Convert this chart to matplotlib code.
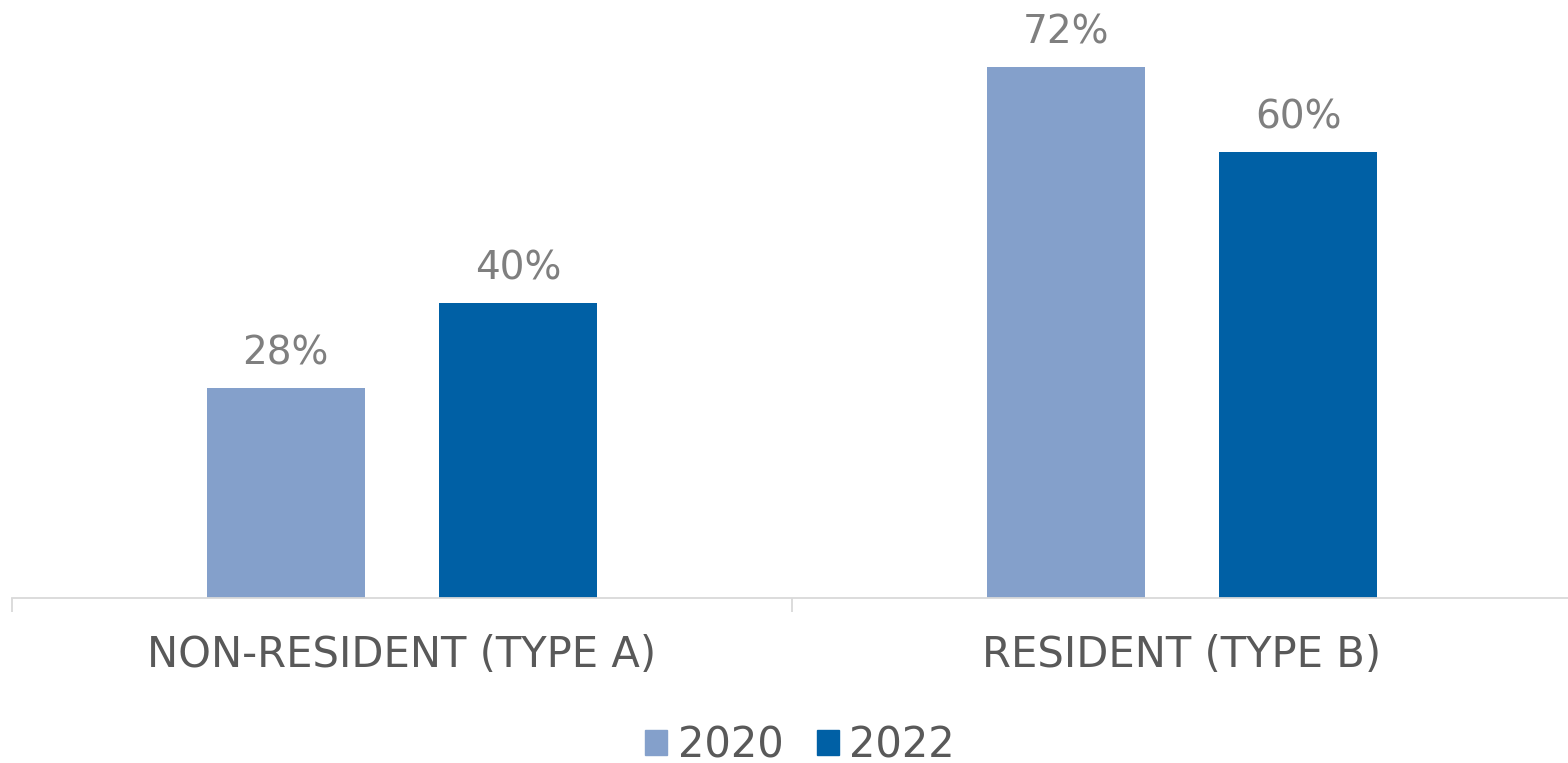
import matplotlib.pyplot as plt
import numpy as np
from matplotlib.patches import Patch

categories = ['NON-RESIDENT (TYPE A)', 'RESIDENT (TYPE B)']
years = ['2020', '2022']
vals_2020 = [28.5, 72]
vals_2022 = [40, 60.5]
labels_2020 = ['28%', '72%']
labels_2022 = ['40%', '60%']

C2020 = '#84a0cb'
C2022 = '#0060a5'
GRID = '#d9d9d9'
TXT = '#595959'
VAL = '#7f7f7f'

plt.rcParams['font.family'] = ['DejaVu Sans']

W, H, DPI = 1568, 763, 100
fig = plt.figure(figsize=(W / DPI, H / DPI), dpi=DPI)
ax = fig.add_axes([12 / W, 165 / H, 1560 / W, 590 / H])

x = np.arange(len(categories))
bw = 0.203
off = 0.149
b1 = ax.bar(x - off, vals_2020, bw, color=C2020)
b2 = ax.bar(x + off, vals_2022, bw, color=C2022)

for bars, labs in ((b1, labels_2020), (b2, labels_2022)):
    for rect, lab in zip(bars, labs):
        ax.annotate(lab, (rect.get_x() + rect.get_width() / 2, rect.get_height()),
                    xytext=(0, 11), textcoords='offset points',
                    ha='center', va='bottom', fontsize=28, color=VAL)

ax.set_xlim(-0.5, 1.5)
ax.set_ylim(0, 80)
ax.set_yticks([])
for s in ['top', 'right', 'left']:
    ax.spines[s].set_visible(False)
ax.spines['bottom'].set_color(GRID)
ax.spines['bottom'].set_linewidth(1.3)

# boundary ticks between categories, labels centred on groups
ax.set_xticks([-0.5, 0.5, 1.5])
ax.set_xticklabels([])
ax.tick_params(axis='x', which='major', length=10, width=1.3, color=GRID)
ax.set_xticks(x, minor=True)
ax.set_xticklabels(categories, minor=True)
ax.tick_params(axis='x', which='minor', length=0, pad=26, labelsize=30,
               labelcolor=TXT)

handles = [Patch(color=C2020), Patch(color=C2022)]
fig.legend(handles, years, loc='center', bbox_to_anchor=(800 / W, 1 - 745 / H),
           ncol=2, frameon=False, fontsize=30, labelcolor=TXT,
           handlelength=0.53, handleheight=0.53, handletextpad=0.25,
           columnspacing=0.8, borderpad=0)

fig.savefig('out.png', dpi=DPI)
